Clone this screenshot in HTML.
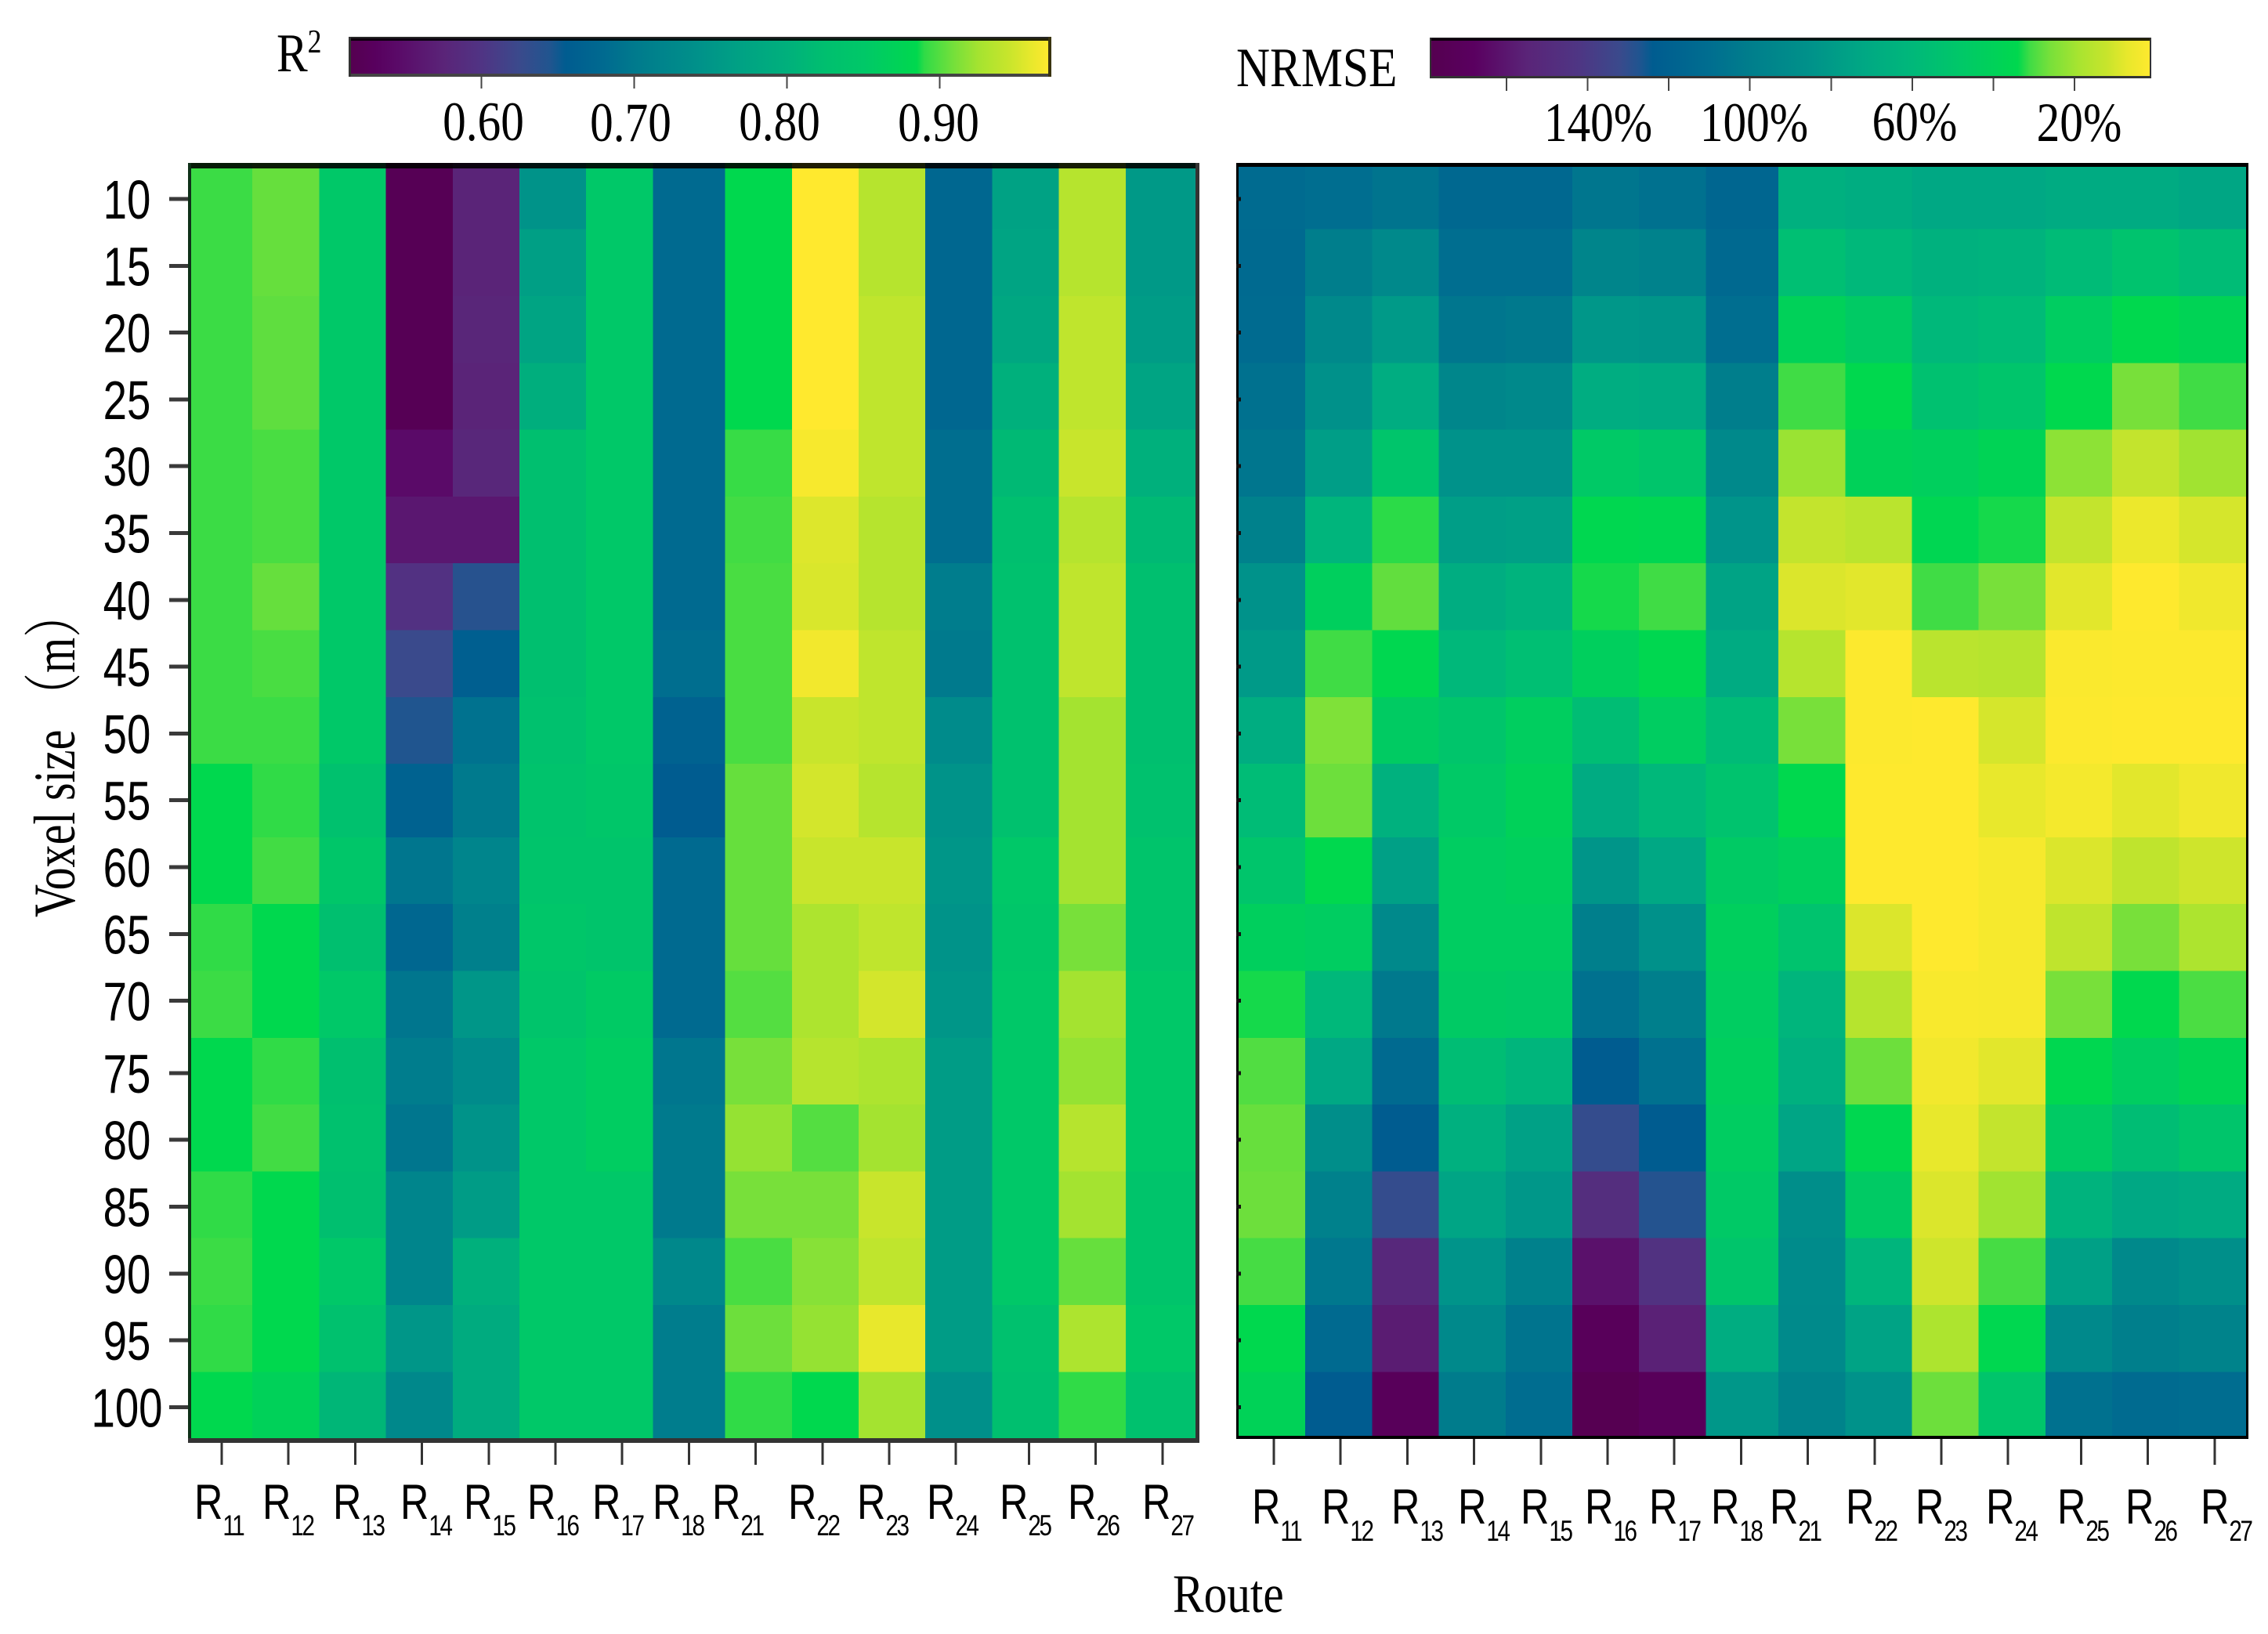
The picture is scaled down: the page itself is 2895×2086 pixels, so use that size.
<!DOCTYPE html>
<html lang="en">
<head>
<meta charset="utf-8">
<title>R2 and NRMSE heatmaps by voxel size and route</title>
<style>
html,body{margin:0;padding:0;background:#fff;}
svg{display:block;}
.sans{font-family:"Liberation Sans",sans-serif;fill:#000;}
.serif{font-family:"Liberation Serif","Noto Serif CJK SC",serif;fill:#000;}
.rl{font-size:63px;}
.rl tspan{font-size:37px;letter-spacing:-3px;}
.cb{font-size:71px;text-anchor:middle;}
</style>
</head>
<body>
<svg id="chart" xmlns="http://www.w3.org/2000/svg" width="2895" height="2086" viewBox="0 0 2895 2086">
  <rect x="0" y="0" width="2895" height="2086" fill="#fff"/>
  <defs>
    <clipPath id="clip-left"><rect x="241" y="208" width="1286" height="1628"/></clipPath>
    <clipPath id="clip-right"><rect x="1580" y="208" width="1287" height="1625"/></clipPath>
    <linearGradient id="grad-r2" x1="0" x2="1" y1="0" y2="0"></linearGradient>
    <linearGradient id="grad-nrmse" x1="0" x2="1" y1="0" y2="0"></linearGradient>
  </defs>

  <g id="left-cells" clip-path="url(#clip-left)" shape-rendering="crispEdges"></g>
  <g id="right-cells" clip-path="url(#clip-right)" shape-rendering="crispEdges"></g>

  <g shape-rendering="crispEdges">
    <rect x="240" y="208" width="1291" height="7" fill="#000" fill-opacity="0.88"/>
    <rect x="240" y="208" width="4" height="1634" fill="#0e3018"/>
    <rect x="1526" y="208" width="5" height="1634" fill="#333"/>
    <rect x="240" y="1836" width="1291" height="6" fill="#333"/>
  </g>
  <g shape-rendering="crispEdges">
    <rect x="1578" y="208" width="1292" height="5" fill="#000"/>
    <rect x="1578" y="208" width="3" height="1629" fill="#000"/>
    <rect x="2867" y="208" width="3" height="1629" fill="#000"/>
    <rect x="1578" y="1833" width="1289" height="4" fill="#000"/>
  </g>

  <g id="ticks" shape-rendering="crispEdges"></g>
  <g id="y-labels"></g>

  <g class="sans">
    <text class="rl" transform="translate(248 1939) scale(.8 1)">R<tspan dy="21">11</tspan></text>
    <text class="rl" transform="translate(335 1939) scale(.8 1)">R<tspan dy="21">12</tspan></text>
    <text class="rl" transform="translate(425 1939) scale(.8 1)">R<tspan dy="21">13</tspan></text>
    <text class="rl" transform="translate(511 1939) scale(.8 1)">R<tspan dy="21">14</tspan></text>
    <text class="rl" transform="translate(592 1939) scale(.8 1)">R<tspan dy="21">15</tspan></text>
    <text class="rl" transform="translate(673 1939) scale(.8 1)">R<tspan dy="21">16</tspan></text>
    <text class="rl" transform="translate(756 1939) scale(.8 1)">R<tspan dy="21">17</tspan></text>
    <text class="rl" transform="translate(833 1939) scale(.8 1)">R<tspan dy="21">18</tspan></text>
    <text class="rl" transform="translate(909 1939) scale(.8 1)">R<tspan dy="21">21</tspan></text>
    <text class="rl" transform="translate(1006 1939) scale(.8 1)">R<tspan dy="21">22</tspan></text>
    <text class="rl" transform="translate(1094 1939) scale(.8 1)">R<tspan dy="21">23</tspan></text>
    <text class="rl" transform="translate(1183 1939) scale(.8 1)">R<tspan dy="21">24</tspan></text>
    <text class="rl" transform="translate(1276 1939) scale(.8 1)">R<tspan dy="21">25</tspan></text>
    <text class="rl" transform="translate(1363 1939) scale(.8 1)">R<tspan dy="21">26</tspan></text>
    <text class="rl" transform="translate(1458 1939) scale(.8 1)">R<tspan dy="21">27</tspan></text>
  </g>
  <g class="sans">
    <text class="rl" transform="translate(1598 1945) scale(.8 1)">R<tspan dy="22">11</tspan></text>
    <text class="rl" transform="translate(1687 1945) scale(.8 1)">R<tspan dy="22">12</tspan></text>
    <text class="rl" transform="translate(1776 1945) scale(.8 1)">R<tspan dy="22">13</tspan></text>
    <text class="rl" transform="translate(1861 1945) scale(.8 1)">R<tspan dy="22">14</tspan></text>
    <text class="rl" transform="translate(1941 1945) scale(.8 1)">R<tspan dy="22">15</tspan></text>
    <text class="rl" transform="translate(2023 1945) scale(.8 1)">R<tspan dy="22">16</tspan></text>
    <text class="rl" transform="translate(2105 1945) scale(.8 1)">R<tspan dy="22">17</tspan></text>
    <text class="rl" transform="translate(2184 1945) scale(.8 1)">R<tspan dy="22">18</tspan></text>
    <text class="rl" transform="translate(2259 1945) scale(.8 1)">R<tspan dy="22">21</tspan></text>
    <text class="rl" transform="translate(2356 1945) scale(.8 1)">R<tspan dy="22">22</tspan></text>
    <text class="rl" transform="translate(2445 1945) scale(.8 1)">R<tspan dy="22">23</tspan></text>
    <text class="rl" transform="translate(2535 1945) scale(.8 1)">R<tspan dy="22">24</tspan></text>
    <text class="rl" transform="translate(2626 1945) scale(.8 1)">R<tspan dy="22">25</tspan></text>
    <text class="rl" transform="translate(2713 1945) scale(.8 1)">R<tspan dy="22">26</tspan></text>
    <text class="rl" transform="translate(2809 1945) scale(.8 1)">R<tspan dy="22">27</tspan></text>
  </g>

  <text class="serif" font-size="69" transform="translate(1497 2058) scale(.86 1)">Route</text>
  <text class="serif" font-size="75" transform="translate(95 1171) rotate(-90) scale(.775 1)">Voxel size （m）</text>

  <g>
    <rect x="447" y="49" width="893" height="47" fill="url(#grad-r2)" stroke="none"/>
    <rect x="445" y="47" width="897" height="5" fill="#000" fill-opacity=".85"/>
    <rect x="445" y="94" width="897" height="4" fill="#444"/>
    <rect x="445" y="47" width="3" height="51" fill="#333"/>
    <rect x="1338" y="47" width="4" height="51" fill="#3a3410"/>
  </g>
  <g>
    <rect x="1826" y="49" width="919" height="49" fill="url(#grad-nrmse)" stroke="none"/>
    <rect x="1825" y="48" width="921" height="4" fill="#000" fill-opacity=".85"/>
    <rect x="1825" y="97" width="921" height="3" fill="#333"/>
    <rect x="1825" y="48" width="2" height="52" fill="#333"/>
    <rect x="2744" y="48" width="2" height="52" fill="#333"/>
  </g>
  <g class="serif">
    <text class="cb" transform="translate(617 179) scale(.835 1)">0.60</text>
    <text class="cb" transform="translate(805 180) scale(.835 1)">0.70</text>
    <text class="cb" transform="translate(995 179) scale(.835 1)">0.80</text>
    <text class="cb" transform="translate(1198 180) scale(.835 1)">0.90</text>
  </g>
  <g class="serif">
    <text class="cb" transform="translate(2040 180) scale(.835 1)">140%</text>
    <text class="cb" transform="translate(2239 180) scale(.835 1)">100%</text>
    <text class="cb" transform="translate(2444 179) scale(.835 1)">60%</text>
    <text class="cb" transform="translate(2654 180) scale(.835 1)">20%</text>
  </g>

  <text class="serif" font-size="70" transform="translate(353 91) scale(.85 1)">R<tspan font-size="42" dy="-24">2</tspan></text>
  <text class="serif" font-size="71" transform="translate(1578 110) scale(.84 1)">NRMSE</text>
</svg>

<script>
// ---------- data ----------
const routes = ['R11','R12','R13','R14','R15','R16','R17','R18','R21','R22','R23','R24','R25','R26','R27'];
const voxelSizes = [10,15,20,25,30,35,40,45,50,55,60,65,70,75,80,85,90,95,100];

const r2Values = [
  [.893,.905,.850,.520,.575,.745,.850,.680,.885,.972,.935,.675,.770,.935,.755],
  [.893,.905,.850,.520,.575,.765,.850,.680,.885,.972,.935,.675,.775,.935,.755],
  [.893,.903,.850,.520,.578,.775,.850,.680,.885,.972,.940,.675,.780,.940,.760],
  [.893,.903,.850,.520,.575,.795,.850,.680,.885,.972,.940,.675,.800,.940,.775],
  [.893,.897,.850,.545,.580,.825,.850,.680,.892,.968,.940,.685,.815,.945,.800],
  [.893,.897,.850,.560,.560,.825,.850,.680,.895,.955,.935,.685,.825,.935,.815],
  [.893,.905,.850,.595,.640,.825,.850,.680,.897,.953,.935,.705,.830,.940,.825],
  [.893,.897,.850,.625,.660,.825,.850,.685,.897,.965,.940,.700,.830,.940,.825],
  [.893,.893,.850,.645,.690,.830,.850,.665,.897,.945,.940,.730,.830,.925,.825],
  [.885,.890,.830,.665,.700,.835,.845,.655,.905,.950,.935,.745,.830,.925,.830],
  [.885,.895,.845,.695,.720,.840,.840,.680,.905,.945,.945,.750,.850,.925,.840],
  [.890,.885,.825,.675,.710,.845,.840,.680,.905,.930,.940,.745,.845,.910,.840],
  [.893,.885,.850,.695,.750,.840,.855,.680,.900,.930,.950,.750,.850,.925,.850],
  [.885,.890,.825,.705,.730,.850,.860,.695,.910,.935,.930,.760,.850,.920,.850],
  [.885,.895,.830,.695,.745,.850,.860,.700,.920,.900,.925,.760,.850,.935,.850],
  [.890,.885,.825,.720,.760,.850,.850,.700,.910,.910,.945,.760,.850,.925,.840],
  [.893,.885,.850,.720,.800,.850,.850,.725,.897,.915,.940,.760,.850,.905,.840],
  [.890,.885,.830,.750,.790,.850,.850,.705,.907,.920,.960,.760,.830,.930,.850],
  [.885,.870,.810,.725,.790,.850,.850,.705,.890,.885,.925,.740,.825,.890,.830]
];

const nrmseValues = [
  [112,110,106,115,115,105,108,116,66,68,72,72,70,70,73],
  [113,100,92,110,110,95,97,114,55,60,65,64,58,52,57],
  [112,92,80,105,103,82,83,110,40,46,60,58,44,34,38],
  [108,86,68,94,92,68,70,100,31,34,53,50,34,26,31],
  [105,78,50,85,85,47,50,92,21,40,42,38,23,13,20],
  [98,62,32,78,77,35,36,84,13,15,36,33,13,6,10],
  [85,42,28,68,64,33,31,75,9,8,31,26,8,1.5,5],
  [80,31,35,60,55,42,35,70,16,2,15,16,2.5,2,2],
  [68,25,45,50,43,56,44,58,26,2,1.5,10,2,1.5,1.5],
  [57,27,65,47,40,70,60,52,34,1.5,1.5,7,4,8,5],
  [50,34,77,44,42,83,72,46,42,1.5,1.5,3.5,9,14,11],
  [42,44,92,44,44,99,86,42,52,9,1.5,3.5,14,26,18],
  [33,60,103,46,47,108,99,44,62,16,3,3.5,26,34,30],
  [29.5,72,113,56,62,124,108,42,66,27,4.5,8,35,44,38],
  [27.5,88,124,66,76,131,124,44,74,35,7,13,46,56,50],
  [27,98,131,74,82,148,128,47,88,46,9,20,64,72,70],
  [30.5,104,152,84,98,162,145,50,90,62,11,30.5,77,92,87],
  [34,113,158,92,106,172,156,68,91,75,18,35,92,99,96],
  [39,124,172,101,111,177,172,82,96,85,27,50,108,112,111]
];

// colour scales (value -> colour)
const r2StopValues = [.514,.530,.545,.575,.600,.625,.645,.655,.680,.700,.740,.770,.800,.825,.850,.885,.890,.910,.925,.945,.960,.972];
const r2StopColors = ['#550050','#58005e','#5a0a68','#5a2478','#503484','#3a4a8c','#20558f','#005c90','#006a90','#007a8d','#00908a','#00a284','#00b07c','#00bf6f','#00c868','#00d84e','#30db47','#78e03a','#a4e330','#c8e52c','#e8e82c','#ffe92e'];
const nrmseStopValues = [178.6,168,155,142,132,127,124,110,100,85,72,60,48,34,31,26,19,12,7,1.2];
const nrmseStopColors = ['#550050','#5a0060','#5a2478','#4e3684','#3a4a8c','#1e5590','#005c90','#006e90','#007e8c','#00928a','#00a884','#00b87a','#00c868','#00d84e','#40dc45','#78e03a','#a8e430','#c8e42c','#e8e82c','#ffe92e'];

// colour bar ticks
const r2TickValues = [.60,.70,.80,.90];
const nrmseTickValues = [160,140,120,100,80,60,40,20];

// ---------- axis functions ----------
const NS = 'http://www.w3.org/2000/svg';
const STEP_X = 85.2, STEP_Y = 85.3;
function leftCellX(i){ return 237 + STEP_X*i + (i>=8?7:0); }
function rightCellX(i){ return 1581 + STEP_X*i + (i>=8?7.5:0); }
function cellY(j){ return 207.4 + STEP_Y*j + (j>=10?8.5:0); }
function leftTickX(i){ return 283 + STEP_X*i + (i>=12?8:0); }
function rightTickX(i){ return 1626 + STEP_X*i + (i>=12?8:0); }
function rowTickY(j){ return 254 + STEP_Y*j + (j>=13?7:0); }
function r2BarX(v){ return 447 + (v-0.514)/(0.972-0.514)*893; }
function nrmseBarX(v){ return 1923 + (160-v)*5.179; }

function colorFrom(values, colors, v){
  const asc = values[values.length-1] > values[0];
  const n = values.length;
  const before = function(a,b){ return asc ? a<=b : a>=b; };
  if(before(v,values[0])) return colors[0];
  if(before(values[n-1],v)) return colors[n-1];
  for(let k=0;k<n-1;k++){
    if(before(values[k],v) && before(v,values[k+1])){
      const t=(v-values[k])/(values[k+1]-values[k]);
      const a=parseInt(colors[k].slice(1),16), b=parseInt(colors[k+1].slice(1),16);
      const ch=function(s){ return Math.round(((a>>s)&255)*(1-t)+((b>>s)&255)*t); };
      return 'rgb('+ch(16)+','+ch(8)+','+ch(0)+')';
    }
  }
  return colors[n-1];
}

function drawHeatmap(group, panel, matrix, xFn, values, colors){
  matrix.forEach(function(row,j){
    row.forEach(function(v,i){
      const el=document.createElementNS(NS,'rect');
      
      
      el.setAttribute('data-route', routes[i]);
      el.setAttribute('data-voxel', voxelSizes[j]);
      el.setAttribute('data-panel', panel);
      el.setAttribute('x', xFn(i));
      el.setAttribute('y', cellY(j));
      el.setAttribute('width', xFn(i+1)-xFn(i)+ (i===row.length-1?6:0));
      el.setAttribute('height', cellY(j+1)-cellY(j));
      el.setAttribute('fill', colorFrom(values,colors,v));
      group.appendChild(el);
    });
  });
}
drawHeatmap(document.getElementById('left-cells'),'r2',r2Values,leftCellX,r2StopValues,r2StopColors);
drawHeatmap(document.getElementById('right-cells'),'nrmse',nrmseValues,rightCellX,nrmseStopValues,nrmseStopColors);

// axis ticks
const tickGroup=document.getElementById('ticks');
function addTick(x,y,w,h,fill){
  const el=document.createElementNS(NS,'rect');
  
  
  el.setAttribute('x',x); el.setAttribute('y',y);
  el.setAttribute('width',w); el.setAttribute('height',h);
  el.setAttribute('fill',fill);
  tickGroup.appendChild(el);
}
routes.forEach(function(r,i){
  addTick(leftTickX(i)-1.5,1842,3,28,'#333');
  addTick(rightTickX(i)-1.5,1837,3,33,'#333');
});
voxelSizes.forEach(function(v,j){
  addTick(216,rowTickY(j)-2.5,24,5,'#3a3a3a');
  addTick(1578,rowTickY(j)-2.5,6,5,'#111');
});
r2TickValues.forEach(function(v){ addTick(r2BarX(v)-1,97,2,16,'#444'); });
nrmseTickValues.forEach(function(v){ addTick(nrmseBarX(v)-1,100,2,16,'#444'); });

// y labels
const yGroup=document.getElementById('y-labels');
voxelSizes.forEach(function(v,j){
  const el=document.createElementNS(NS,'text');
  
  
  el.setAttribute('class','sans');
  el.setAttribute('font-size','70');
  el.setAttribute('text-anchor','middle');
  el.setAttribute('transform','translate(162 '+(rowTickY(j)+25)+') scale(.78 1)');
  el.textContent=String(v);
  yGroup.appendChild(el);
});

// colorbar gradients
function buildGradient(id,values,colors,barFn,x0,w){
  const g=document.getElementById(id);
  const order=values.map(function(v,k){ return {o:(barFn(v)-x0)/w,c:colors[k]}; }).sort(function(a,b){return a.o-b.o;});
  order.forEach(function(s){
    const st=document.createElementNS(NS,'stop');
    st.setAttribute('offset',Math.max(0,Math.min(1,s.o)));
    st.setAttribute('stop-color',s.c);
    g.appendChild(st);
  });
}
buildGradient('grad-r2',r2StopValues,r2StopColors,r2BarX,447,893);
buildGradient('grad-nrmse',nrmseStopValues,nrmseStopColors,nrmseBarX,1826,919);
</script>
</body>
</html>
